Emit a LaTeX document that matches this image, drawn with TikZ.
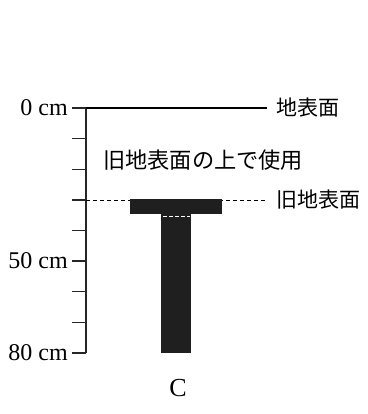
\documentclass[tikz,border=0pt]{standalone}
\usepackage{fontspec}
\setmainfont{Liberation Serif}
\newfontfamily\cjk{Noto Sans CJK JP}
\begin{document}
\begin{tikzpicture}[x=1pt,y=-1pt,
  axisline/.style={line width=1.3pt,black!85},
  tickline/.style={line width=1.3pt,black!85},
  groundline/.style={line width=2pt},
  oldline/.style={line width=0.9pt,dash pattern=on 4pt off 3pt},
  lbl/.style={font=\fontsize{24}{24}\selectfont,inner sep=0pt},
  jlbl/.style={font=\cjk\fontsize{21}{21}\selectfont,inner sep=0pt},
  post/.style={fill=black!88,draw=none}]
\useasboundingbox (0,0) rectangle (367,414);
% axis
\coordinate (a0) at (86,108);
\coordinate (a80) at (86,353);
\draw[axisline] (a0) -- (a80);
\foreach \i in {0,...,8}{
  \coordinate (t\i) at (72,{108+\i*30.625});
  \draw[tickline] (t\i) -- ++(14,0);
}
\node[lbl,anchor=east] (l0) at (68,108) {0 cm};
\node[lbl,anchor=east] (l50) at (68,261) {50 cm};
\node[lbl,anchor=east] (l80) at (68,353) {80 cm};
% ground
\coordinate (g1) at (267,108);
\draw[groundline] (a0) -- (g1);
\node[jlbl,anchor=west] (gl) at (276,108) {地表面};
% old ground
\coordinate (o0) at (86,200);
\coordinate (o1) at (266,200);
\draw[oldline] (o0) -- (o1);
\node[jlbl,anchor=west] (ol) at (276,200) {旧地表面};
\node[jlbl,anchor=west,font=\cjk\fontsize{22.2}{22}\selectfont] (use) at (103,160) {旧地表面の上で使用};
% post
\fill[post] (130,199) rectangle (222,214);
\fill[post] (161,214) rectangle (191,353);
\coordinate (w0) at (163,216.5);
\coordinate (w1) at (190,216.5);
\draw[white,line width=0.9pt,dash pattern=on 4pt off 2pt] (w0) -- (w1);
\node[lbl,font=\fontsize{26}{26}\selectfont] (c) at (178,388) {C};
\end{tikzpicture}
\end{document}
